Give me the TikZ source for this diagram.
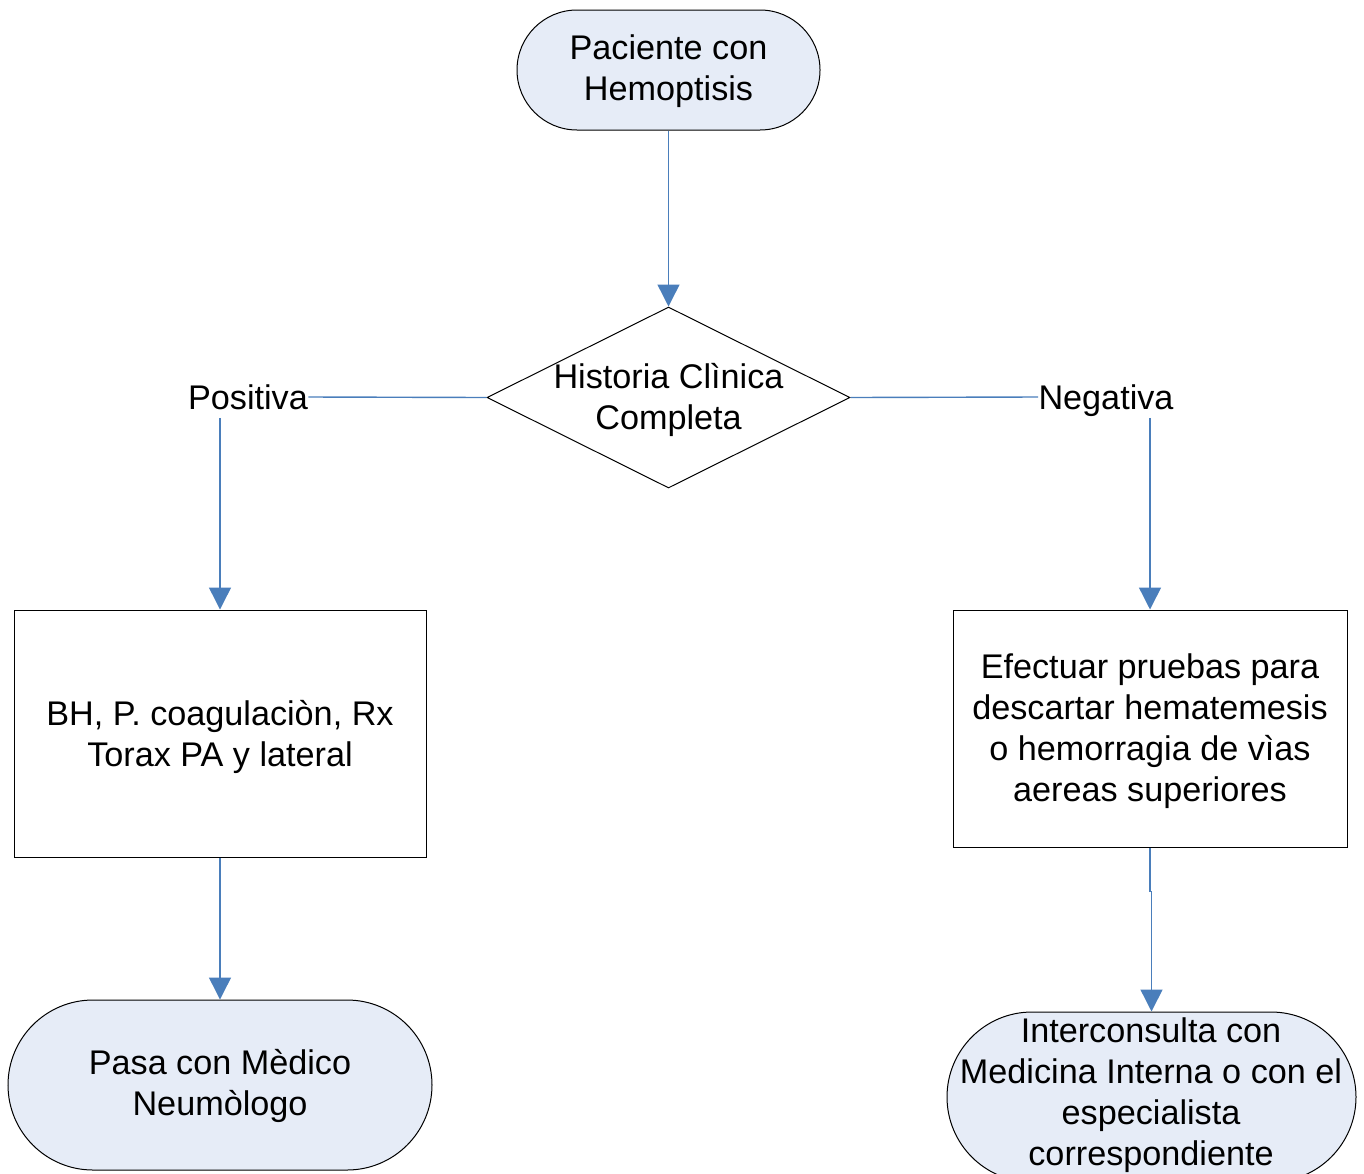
\documentclass[tikz,border=0pt]{standalone}
\usepackage{fontspec}
\setmainfont{Liberation Sans}
\usetikzlibrary{shapes.geometric,arrows.meta}
\definecolor{lineblue}{RGB}{74,126,187}
\definecolor{termfill}{RGB}{230,236,247}
\newcommand{\txtfont}{\fontsize{17.1}{20.5}\selectfont}
\begin{document}
\begin{tikzpicture}[x=0.5pt,y=-0.5pt,
  txt/.style={font=\txtfont, align=center, inner sep=0pt},
  term/.style={draw=black, line width=0.5pt, fill=termfill, rectangle, rounded corners=#1, inner sep=0pt},
  procbox/.style={draw=black, line width=0.5pt, rectangle, inner sep=0pt},
  lbl/.style={font=\txtfont, inner xsep=0pt, inner ysep=4pt, text depth=0pt},
  conn/.style={draw=lineblue, line width=0.7pt},
  arr/.style={conn, -{Triangle[width=11pt,length=11pt]}}]
\useasboundingbox (0,0) rectangle (1364,1173);
\node (start) [term=30pt, minimum width=151.5pt, minimum height=60pt] at (668.5,70) {};
\node (startt) [txt] at (668.5,71.5) {Paciente con\\Hemoptisis};
\node (hc) [diamond, draw=black, line width=0.5pt, minimum width=181.5pt, minimum height=90.5pt, inner sep=0pt] at (668.5,397.5) {};
\node (hct) [txt] at (668.5,400) {Historia Clìnica\\Completa};
\node (pos) [lbl] at (248,397) {Positiva};
\node (neg) [lbl] at (1106,397) {Negativa};
\node (lbox) [procbox, minimum width=206pt, minimum height=123.5pt] at (220,733.5) {};
\node (lboxt) [txt] at (220,736.5) {BH, P. coagulaciòn, Rx\\Torax PA y lateral};
\node (rbox) [procbox, minimum width=197pt, minimum height=118.5pt] at (1150,728.5) {};
\node (rboxt) [txt] at (1150,731.5) {Efectuar pruebas para\\descartar hematemesis\\o hemorragia de vìas\\aereas superiores};
\node (lterm) [term=42.5pt, minimum width=212pt, minimum height=85pt] at (220,1085) {};
\node (ltermt) [txt] at (220,1086) {Pasa con Mèdico\\Neumòlogo};
\node (rterm) [term=42.5pt, minimum width=204.5pt, minimum height=85pt] at (1151.5,1097) {};
\node (rtermt) [txt] at (1151,1095) {Interconsulta con\\Medicina Interna o con el\\especialista\\correspondiente};
\draw[arr] (start.south) -- (hc.north);
\draw[conn] (hc.west) -- (pos.east);
\draw[conn] (hc.east) -- (neg.west);
\draw[arr] (pos.south -| lbox.north) -- (lbox.north);
\draw[arr] (neg.south -| rbox.north) -- (rbox.north);
\draw[arr] (lbox.south) -- (lterm.north);
\draw[arr] (rbox.south) -- ++(0,44) -| (rterm.north);
\end{tikzpicture}
\end{document}
